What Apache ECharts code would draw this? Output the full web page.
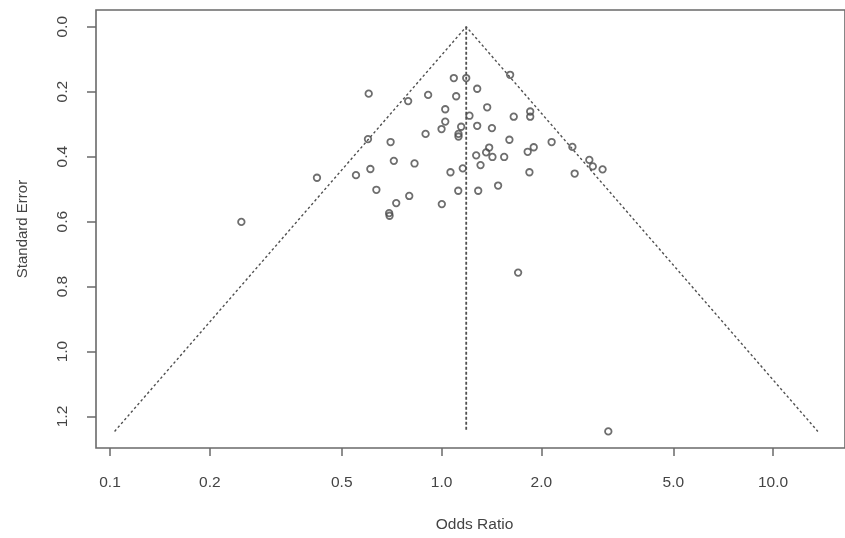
<!DOCTYPE html>
<html>
<head>
<meta charset="utf-8">
<title>Funnel plot</title>
<script src="https://cdn.jsdelivr.net/npm/echarts@6/dist/echarts.min.js"></script>
<style>
  html, body { margin: 0; padding: 0; background: #fff; }
  #chart { width: 845px; height: 538px; }
</style>
</head>
<body>
<div id="chart"></div>
<script>
// Study-level odds ratios and their standard errors
const oddsRatio = [
  1.089, 1.187, 1.610, 1.281, 0.603, 0.793, 0.911, 1.107, 1.026, 1.373,
  1.214, 1.651, 1.851, 1.851, 1.026, 1.000, 1.146, 1.281, 1.419, 0.895,
  1.125, 1.125, 0.600, 0.702, 1.602, 2.148, 2.481, 1.392, 1.897, 1.819,
  1.272, 1.363, 1.424, 1.545, 0.718, 0.829, 1.311, 0.421, 0.552, 0.610,
  1.064, 1.159, 1.841, 2.521, 0.636, 1.123, 1.290, 1.481, 0.799, 0.730,
  1.002, 0.695, 0.697, 1.702, 2.791, 2.859, 3.060, 0.249, 3.184
];
const standardError = [
  0.158, 0.158, 0.148, 0.191, 0.206, 0.229, 0.210, 0.214, 0.254, 0.248,
  0.274, 0.277, 0.261, 0.277, 0.292, 0.315, 0.308, 0.305, 0.312, 0.330,
  0.330, 0.338, 0.346, 0.355, 0.348, 0.355, 0.370, 0.372, 0.371, 0.385,
  0.396, 0.387, 0.401, 0.401, 0.413, 0.421, 0.426, 0.465, 0.457, 0.438,
  0.448, 0.436, 0.448, 0.452, 0.502, 0.505, 0.505, 0.489, 0.521, 0.543,
  0.546, 0.574, 0.582, 0.757, 0.410, 0.430, 0.439, 0.601, 1.246
];

// Pooled estimate and pseudo-confidence multiplier
const pooledOR = 1.187;
const zCrit = 1.96;

// Axis ticks
const xTicks = [0.1, 0.2, 0.5, 1.0, 2.0, 5.0, 10.0];
const yTicks = [0.0, 0.2, 0.4, 0.6, 0.8, 1.0, 1.2];

const lg = Math.log10;
const seMax = Math.max(...standardError);
const lnC = Math.log(pooledOR);
const loOR = Math.exp(lnC - zCrit * seMax);
const hiOR = Math.exp(lnC + zCrit * seMax);

const points = oddsRatio.map((or, i) => [lg(or), standardError[i]]);
const funnel = [[lg(loOR), seMax], [lg(pooledOR), 0], [lg(hiOR), seMax]];
const refLine = [[lg(pooledOR), 0], [lg(pooledOR), seMax]];

const textCol = '#444';
const fontFam = '"Liberation Sans", Arial, sans-serif';

const chart = echarts.init(document.getElementById('chart'), null, { renderer: 'canvas' });
chart.setOption({
  animation: false,
  backgroundColor: '#fff',
  grid: {
    left: 96, top: 10, right: -1, bottom: 83,
    show: true, borderColor: '#6a6a6a', borderWidth: 1.6,
    containLabel: false
  },
  xAxis: {
    type: 'value',
    position: 'bottom',
    min: -1.0422, max: 1.2169,
    name: 'Odds Ratio',
    nameLocation: 'middle',
    nameGap: 69,
    nameTextStyle: { color: textCol, fontSize: 15.5, fontFamily: fontFam, padding: [0, 0, 0, 8] },
    axisLine: { show: false, onZero: false },
    splitLine: { show: false },
    axisTick: {
      show: true, inside: false, length: 8,
      customValues: xTicks.map(lg),
      lineStyle: { color: '#6a6a6a', width: 1.5 }
    },
    axisLabel: {
      customValues: xTicks.map(lg),
      margin: 27,
      color: textCol, fontSize: 15.5, fontFamily: fontFam,
      formatter: v => Math.pow(10, v).toFixed(1)
    }
  },
  yAxis: {
    type: 'value',
    position: 'left',
    inverse: true,
    min: -0.0515, max: 1.297,
    name: 'Standard Error',
    nameLocation: 'middle',
    nameGap: 66,
    nameTextStyle: { color: textCol, fontSize: 15, fontFamily: fontFam },
    axisLine: { show: false, onZero: false },
    splitLine: { show: false },
    axisTick: {
      show: true, inside: false, length: 9,
      customValues: yTicks,
      lineStyle: { color: '#6a6a6a', width: 1.5 }
    },
    axisLabel: {
      customValues: yTicks,
      rotate: 90,
      margin: 25,
      color: textCol, fontSize: 15.5, fontFamily: fontFam,
      formatter: v => v.toFixed(1)
    }
  },
  series: [
    {
      type: 'line',
      data: funnel,
      symbol: 'none',
      lineStyle: { color: '#505050', width: 1.4, type: [2.5, 2.5] },
      z: 2
    },
    {
      type: 'line',
      data: refLine,
      symbol: 'none',
      lineStyle: { color: '#505050', width: 1.8, type: [3, 2] },
      z: 2
    },
    {
      type: 'scatter',
      data: points,
      symbol: 'circle',
      symbolSize: 6.5,
      itemStyle: { color: 'rgba(255,255,255,0)', borderColor: '#4a4a4a', borderWidth: 1.8 },
      z: 3
    }
  ]
});
</script>
</body>
</html>
